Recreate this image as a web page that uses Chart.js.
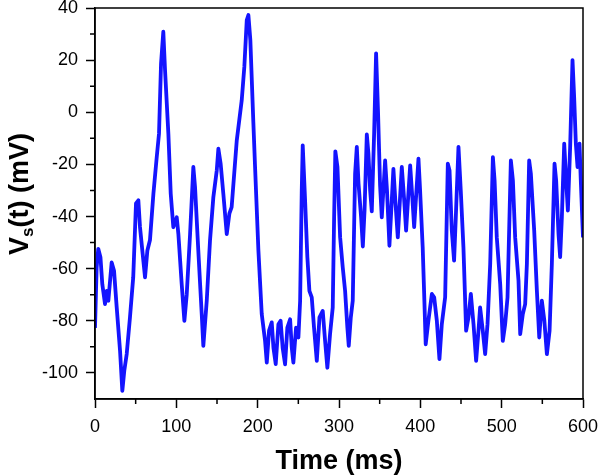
<!DOCTYPE html>
<html>
<head>
<meta charset="utf-8">
<script src="https://cdn.jsdelivr.net/npm/chart.js@4/dist/chart.umd.min.js"></script>
<style>
  html, body { margin: 0; padding: 0; background: #fff; }
  #wrap { width: 600px; height: 476px; }
</style>
</head>
<body>
<div id="wrap"><canvas id="vsChart"></canvas></div>
<script>
// time (ms) and membrane voltage (mV)
const timeMs = [
  0, 2, 4, 6.7, 9, 12.3, 14.4, 16.4, 20.5, 23.4, 26.7, 30.8, 33.6, 36, 39, 43, 47,
  50.4, 53.3, 55.3, 58.6, 61.5, 64.4, 67.6, 71.8, 75.9, 78.7, 81.2, 84, 86.1, 90.2,
  93.1, 96.3, 100.5, 102.5, 106.6, 109.9, 112.8, 116.9, 120.9, 123, 127, 131.2,
  133.2, 137.4, 141.4, 145.5, 149.7, 151.7, 154.5, 157.8, 162, 165.2, 168, 174.3,
  180.4, 183.6, 186.6, 188.6, 191, 194.7, 196.8, 200.9, 205, 209.1, 211.2, 214,
  217.3, 219.4, 222.2, 225.5, 228.2, 230.7, 233.7, 236.5, 239.9, 241.9, 243.9,
  247.2, 250.1, 252.2, 254.2, 255.4, 258.3, 261.1, 263.6, 266.5, 269.3, 272.7, 276,
  280, 282.9, 285.7, 289, 292.3, 294, 295.5, 298.1, 301.4, 304.6, 307.5, 310.3, 312,
  314.5, 316.9, 319.8, 321.9, 324, 327.2, 329.3, 331.4, 334.2, 336.2, 338.3, 340.3,
  343.2, 345.6, 348, 350.5, 352.6, 356.7, 359, 362, 366.9, 369.5, 372.3, 377.2, 380,
  382.5, 387.5, 390, 392.4, 397.7, 399.7, 402.9, 404.6, 406.6, 409.9, 414.2, 417,
  420.3, 423.5, 426.4, 430.5, 433.8, 435.9, 438.7, 441.5, 443.6, 446.9, 449.7, 453,
  456.3, 459.2, 462.1, 465.4, 468.6, 471.5, 473.5, 476.8, 479.7, 482.6, 485.9, 489.2,
  491.3, 494, 498.2, 501.4, 504.3, 507.2, 511.3, 513.8, 516.6, 520.7, 522.8, 526,
  528.9, 531, 533.8, 535.9, 540, 543.3, 546.2, 549.4, 552.5, 555.6, 558.9, 561.7,
  565, 567, 569.9, 571.9, 574, 576.9, 579.3, 581.4, 584.2, 587.1, 589.1, 591.2,
  593.3, 595.7, 597.3, 600
];
const voltage = [
  -82.7, -59.6, -52.4, -55.6, -66, -73.6, -68.5, -72.3, -57.6, -60.8, -74.9, -91.5,
  -106.9, -99.2, -92.7, -78.7, -63.3, -35, -33.8, -44, -54.3, -63.3, -53, -49, -31.3,
  -17.2, -8.2, 18.7, 30.9, 16.2, -8.2, -31.2, -44.1, -40.3, -46.7, -65.9, -80, -69.8,
  -46.7, -21, -28.7, -53, -77.3, -89.6, -72.3, -49.2, -32.6, -22.3, -14, -19.8, -31.3,
  -46.7, -38.9, -36.4, -10.8, 4.6, 17.4, 35.4, 37.3, 27.7, -4, -21, -53, -77.4, -87.7,
  -96, -83.8, -80.6, -90.3, -96.6, -81.3, -80, -90.3, -96.7, -82.6, -79.4, -90.3, -96,
  -82.6, -86.4, -72.3, -30, -12.7, -33.8, -55.6, -68.5, -71, -82.6, -95.4, -78.7,
  -76.2, -87.7, -98, -85.1, -74.9, -40.3, -15, -21, -48, -59.5, -68.5, -82.6, -89.6,
  -78.7, -72.3, -23.6, -13.3, -27.4, -40.3, -51.5, -37.7, -8.5, -15.9, -30, -38,
  -8.1, 22.6, 0, -28, -40.3, -18.5, -30, -51.2, -21.7, -35, -48, -21, -33, -45.4,
  -20.4, -32, -44.1, -17.8, -30, -51.8, -68.5, -89, -80, -69.7, -71, -80, -94.7,
  -81.3, -71, -19.7, -22.3, -45.4, -56.9, -40.3, -13.3, -30, -51.8, -83.8, -78.7,
  -69.7, -81.3, -95.4, -83.8, -74.9, -83.8, -92.8, -81.3, -58.2, -17.2, -26.2, -48,
  -65.9, -87.7, -81.3, -71, -18.5, -26.2, -48, -64.6, -85.1, -77.4, -73.6, -58.2,
  -18.5, -23.6, -45.4, -68.5, -86.4, -72.3, -80, -92.8, -83.8, -58.2, -19.7, -26.2,
  -46.7, -55.6, -40.3, -12, -26.2, -37.7, -13.3, 20, 5.9, -12, -21, -12, -26.2, -48
];
const xMajorTicks = [0, 100, 200, 300, 400, 500, 600];
const yMajorTicks = [40, 20, 0, -20, -40, -60, -80, -100];

const FONT = '"Liberation Sans", Arial, Helvetica, sans-serif';

// frame, minor ticks and the two axis titles
const decorations = {
  id: 'decorations',
  afterDraw(chart) {
    const { ctx, chartArea: a, scales: { x, y } } = chart;
    ctx.save();
    ctx.strokeStyle = '#000';
    ctx.lineWidth = 1.5;
    ctx.strokeRect(a.left, a.top, a.right - a.left, a.bottom - a.top);

    ctx.beginPath();
    y.ticks.forEach(t => {
      if (yMajorTicks.includes(t.value) || t.value === y.min) return;
      const p = y.getPixelForValue(t.value);
      ctx.moveTo(a.left - 5, p); ctx.lineTo(a.left, p);
    });
    x.ticks.forEach(t => {
      if (xMajorTicks.includes(t.value)) return;
      const p = x.getPixelForValue(t.value);
      ctx.moveTo(p, a.bottom); ctx.lineTo(p, a.bottom + 5);
    });
    ctx.stroke();

    ctx.fillStyle = '#000';
    ctx.font = 'bold 27px ' + FONT;
    ctx.textAlign = 'center';
    ctx.textBaseline = 'alphabetic';
    ctx.fillText('Time (ms)', (a.left + a.right) / 2, 469);

    // V_s(t) (mV), rotated, with subscript
    ctx.translate(28, 194);
    ctx.rotate(-Math.PI / 2);
    ctx.textAlign = 'left';
    const big = 'bold 27px ' + FONT, small = 'bold 17px ' + FONT;
    ctx.font = big; const wV = ctx.measureText('V').width;
    const wRest = ctx.measureText('(t) (mV)').width;
    ctx.font = small; const wS = ctx.measureText('s').width;
    let x0 = -(wV + wS + wRest) / 2;
    ctx.font = big; ctx.fillText('V', x0, 0); x0 += wV;
    ctx.font = small; ctx.fillText('s', x0, 5); x0 += wS;
    ctx.font = big; ctx.fillText('(t) (mV)', x0, 0);
    ctx.restore();
  }
};

const ctx = document.getElementById('vsChart').getContext('2d');
new Chart(ctx, {
  type: 'line',
  data: {
    datasets: [{
      data: timeMs.map((t, i) => ({ x: t, y: voltage[i] })),
      borderColor: 'rgb(20, 20, 255)',
      borderWidth: 3.8,
      borderJoinStyle: 'round',
      pointRadius: 0,
      tension: 0,
      fill: false
    }]
  },
  options: {
    responsive: true,
    maintainAspectRatio: false,
    animation: false,
    layout: { padding: { left: 0, right: 17, top: 8, bottom: 0 } },
    plugins: { legend: { display: false }, tooltip: { enabled: false } },
    scales: {
      x: {
        type: 'linear',
        min: 0, max: 600,
        afterFit: s => { s.height = 77; s.paddingLeft = 0; s.paddingRight = 0; },
        border: { color: '#000', width: 1.5 },
        grid: {
          drawOnChartArea: false, tickLength: 9, tickWidth: 1.5,
          tickColor: c => (c.tick && xMajorTicks.includes(c.tick.value)) ? '#000' : 'rgba(0,0,0,0)'
        },
        ticks: {
          stepSize: 50, padding: 8, color: '#000', maxRotation: 0,
          font: { family: FONT, size: 18 },
          callback: v => xMajorTicks.includes(v) ? String(v) : ''
        }
      },
      y: {
        min: -110, max: 40,
        afterFit: s => { s.width = 95; s.paddingTop = 0; s.paddingBottom = 0; },
        border: { color: '#000', width: 1.5 },
        grid: {
          drawOnChartArea: false, tickLength: 9, tickWidth: 1.5,
          tickColor: c => (c.tick && yMajorTicks.includes(c.tick.value)) ? '#000' : 'rgba(0,0,0,0)'
        },
        ticks: {
          stepSize: 10, padding: 8, color: '#000',
          font: { family: FONT, size: 18 },
          callback: v => yMajorTicks.includes(v) ? String(v) : ''
        }
      }
    }
  },
  plugins: [decorations]
});
</script>
</body>
</html>
